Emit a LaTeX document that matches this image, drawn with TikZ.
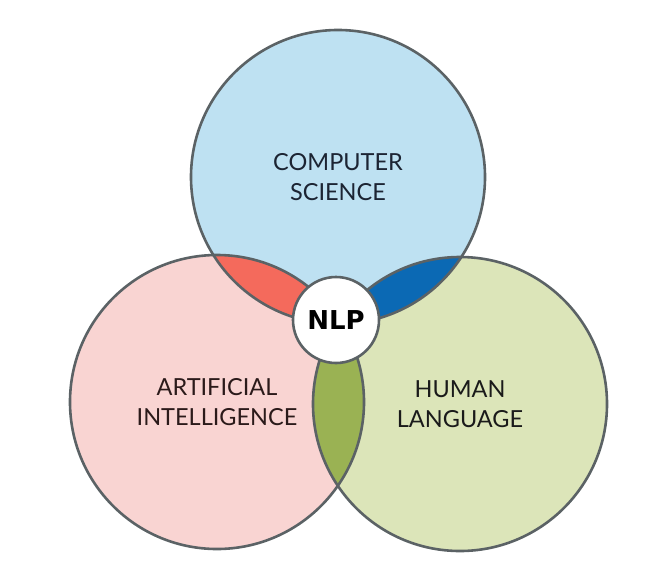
\documentclass[tikz,border=0pt]{standalone}
\usepackage{fontspec}
\newfontfamily\setfont{Lato}
\newfontfamily\hubfont{DejaVu Sans}
\definecolor{rim}{HTML}{5B6265}
\definecolor{cs-fill}{HTML}{BEE1F2}
\definecolor{ai-fill}{HTML}{F9D4D2}
\definecolor{hl-fill}{HTML}{DCE5B9}
\definecolor{cs-ai}{HTML}{F46A5C}
\definecolor{cs-hl}{HTML}{0B69B4}
\definecolor{ai-hl}{HTML}{9AB253}
\definecolor{cs-text}{HTML}{1C2433}
\definecolor{ai-text}{HTML}{2B1A1A}
\definecolor{hl-text}{HTML}{1A1A1A}

\begin{document}
\begin{tikzpicture}[
    x=1pt, y=-1pt,
    set/.style={
        circle, minimum size=294pt, inner sep=0pt,
        align=center, font=\setfont\fontsize{23.5}{30}\selectfont,
    },
    rim line/.style={ draw=rim, line width=2.6pt, },
    hub/.style={
        circle, fill=white, rim line, minimum size=86pt, inner sep=0pt,
        font=\hubfont\bfseries\fontsize{26}{26}\selectfont,
    },
]
\useasboundingbox (0,0) rectangle (666,584);

% the three fields
\node[set, fill=cs-fill, text=cs-text] (cs) at (338,177) {COMPUTER\\SCIENCE};
\node[set, fill=ai-fill, text=ai-text] (ai) at (217,402) {ARTIFICIAL\\INTELLIGENCE};
\node[set, fill=hl-fill, text=hl-text] (hl) at (460,404) {HUMAN\\LANGUAGE};

% overlaps
\begin{scope}
    \clip (cs.center) circle (147pt);
    \fill[cs-ai] (ai.center) circle (147pt);
    \fill[cs-hl] (hl.center) circle (147pt);
\end{scope}
\begin{scope}
    \clip (ai.center) circle (147pt);
    \fill[ai-hl] (hl.center) circle (147pt);
\end{scope}

\foreach \f in {cs,ai,hl}
    \draw[rim line] (\f.center) circle (147pt);

\node[hub] (nlp) at (336,320) {NLP};
\end{tikzpicture}
\end{document}
